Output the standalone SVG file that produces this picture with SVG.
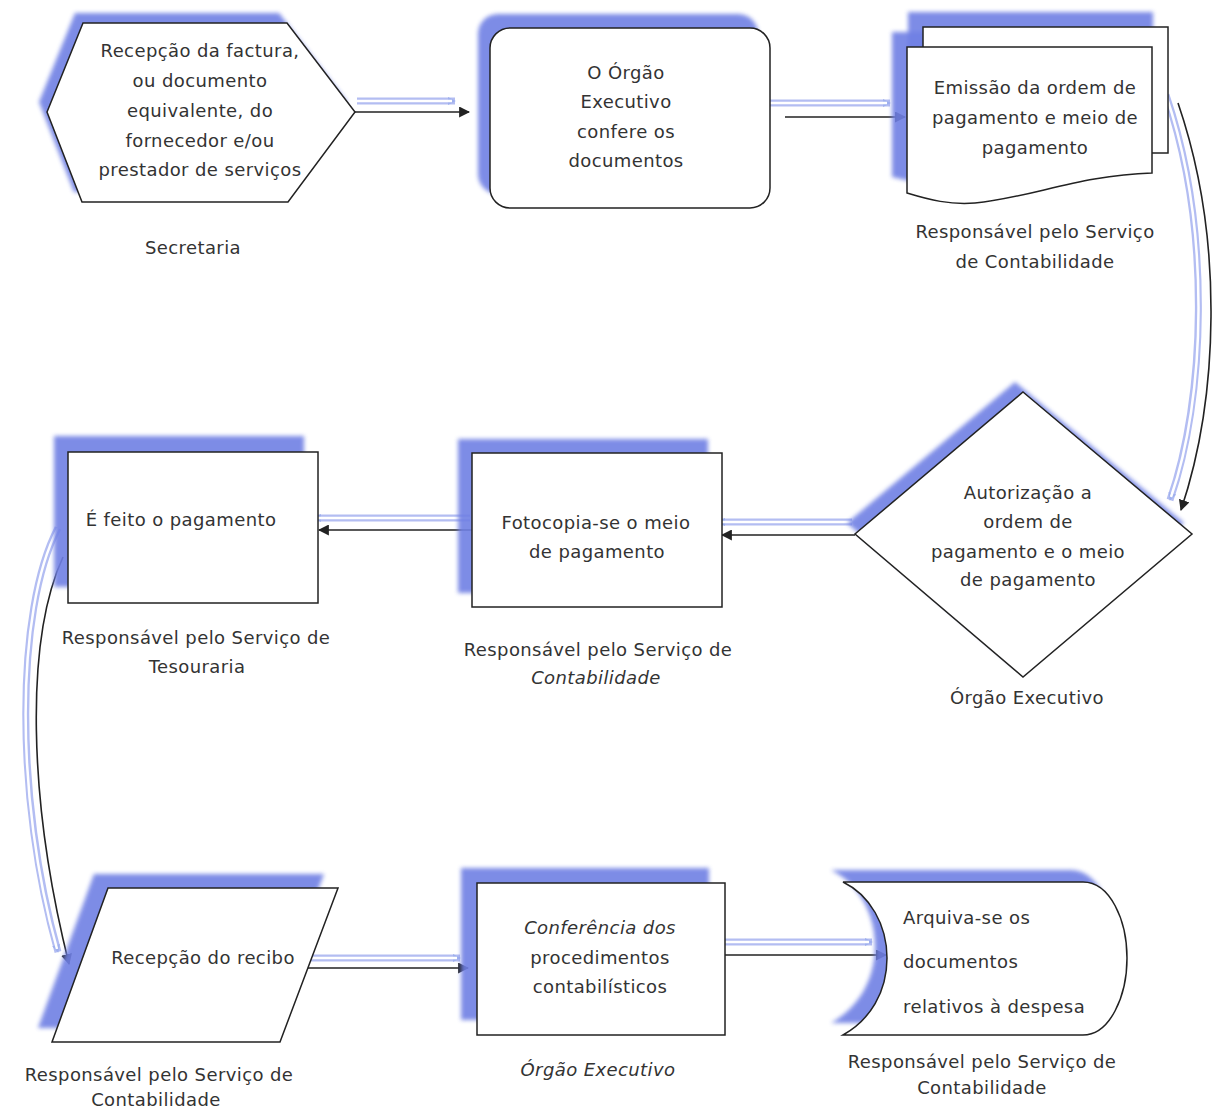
<svg xmlns="http://www.w3.org/2000/svg" width="1223" height="1111" viewBox="0 0 1223 1111">
<defs>
<filter id="blur" x="-10%" y="-10%" width="120%" height="120%"><feGaussianBlur stdDeviation="2.2"/></filter>
<marker id="ah" viewBox="0 0 10 10" refX="9" refY="5" markerWidth="11" markerHeight="11" markerUnits="userSpaceOnUse" orient="auto"><path d="M0,0 L10,5 L0,10 Z" fill="#222"/></marker>
<marker id="ahb" viewBox="0 0 10 10" refX="9" refY="5" markerWidth="8" markerHeight="8" markerUnits="userSpaceOnUse" orient="auto"><path d="M0,0 L10,5 L0,10 Z" fill="#9fb0ee"/></marker>
</defs>
<style>
.sh{fill:#6f80e4;filter:url(#blur);opacity:0.9}
.nd{fill:#fff;stroke:#222;stroke-width:1.5}
.t{font-family:"DejaVu Sans",sans-serif;font-size:18px;fill:#333;text-anchor:middle;letter-spacing:0.4px}
.tl{text-anchor:start}
.it{font-style:italic}
.ln{fill:none;stroke:#222;stroke-width:1.6}
.bl{fill:none;stroke:#b3bdf2;stroke-width:7}
.bw{fill:none;stroke:#fff;stroke-width:2.5}
</style>
<rect width="1223" height="1111" fill="#fff"/>

<g id="connectors">
  <path class="bl" d="M357,101 H455" marker-end="url(#ahb)"/><path class="bw" d="M357,101 H452"/>
  <path class="ln" d="M355,112 H469" marker-end="url(#ah)"/>
  <path class="bl" d="M770,103 H890" marker-end="url(#ahb)"/><path class="bw" d="M770,103 H887"/>
  <path class="ln" d="M785,117 H905" marker-end="url(#ah)"/>
  <path class="bl" d="M1166,95 C1212,230 1205,400 1170,500" marker-end="url(#ahb)"/><path class="bw" d="M1166,95 C1212,230 1205,400 1171,497"/>
  <path class="ln" d="M1178,103 C1225,240 1218,400 1181,510" marker-end="url(#ah)"/>
  <path class="bl" d="M852,522 H718" marker-end="url(#ahb)"/><path class="bw" d="M852,522 H721"/>
  <path class="ln" d="M855,535 H722" marker-end="url(#ah)"/>
  <path class="bl" d="M470,518 H314" marker-end="url(#ahb)"/><path class="bw" d="M470,518 H317"/>
  <path class="ln" d="M472,530 H319" marker-end="url(#ah)"/>
  <path class="bl" d="M58,528 C15,610 15,800 58,952" marker-end="url(#ahb)"/><path class="bw" d="M58,528 C15,610 15,800 57,949"/>
  <path class="ln" d="M63,557 C25,640 28,800 69,964" marker-end="url(#ah)"/>
  <path class="bl" d="M300,958 H460" marker-end="url(#ahb)"/><path class="bw" d="M300,958 H457"/>
  <path class="ln" d="M300,968 H468" marker-end="url(#ah)"/>
  <path class="bl" d="M706,942 H872" marker-end="url(#ahb)"/><path class="bw" d="M706,942 H869"/>
  <path class="ln" d="M720,955 H886" marker-end="url(#ah)"/>
</g>

<g id="node-recepcao-factura">
  <polygon class="sh" points="39,102 75,13 279,13 347,102 280,192 74,192"/>
  <polygon class="nd" points="47,112 83,23 287,23 355,112 288,202 82,202"/>
  <text class="t" x="200" y="57">Recepção da factura,</text>
  <text class="t" x="200" y="87">ou documento</text>
  <text class="t" x="200" y="117">equivalente, do</text>
  <text class="t" x="200" y="147">fornecedor e/ou</text>
  <text class="t" x="200" y="176">prestador de serviços</text>
  <text class="t" x="193" y="254">Secretaria</text>
</g>

<g id="node-orgao-confere">
  <rect class="sh" x="478" y="14" width="280" height="180" rx="20"/>
  <rect class="nd" x="490" y="28" width="280" height="180" rx="20"/>
  <text class="t" x="626" y="79">O Órgão</text>
  <text class="t" x="626" y="108">Executivo</text>
  <text class="t" x="626" y="138">confere os</text>
  <text class="t" x="626" y="167">documentos</text>
</g>

<g id="node-emissao">
  <rect class="sh" x="908" y="12" width="245" height="126"/>
  <path class="sh" d="M892,32 H1137 V158 C1065,160 1015,188 960,188 C935,188 915,182 892,177 Z"/>
  <rect class="nd" x="923" y="27" width="245" height="126"/>
  <path class="nd" d="M907,47 H1152 V173 C1080,175 1030,198 975,203 C950,205 930,200 907,193 Z"/>
  <text class="t" x="1035" y="94">Emissão da ordem de</text>
  <text class="t" x="1035" y="124">pagamento e meio de</text>
  <text class="t" x="1035" y="154">pagamento</text>
  <text class="t" x="1035" y="238">Responsável pelo Serviço</text>
  <text class="t" x="1035" y="268">de Contabilidade</text>
</g>

<g id="node-autorizacao">
  <polygon class="sh" points="1015,382 1184,523 1015,667 847,523"/>
  <polygon class="nd" points="1023,392 1192,534 1023,677 855,534"/>
  <text class="t" x="1028" y="499">Autorização a</text>
  <text class="t" x="1028" y="528">ordem de</text>
  <text class="t" x="1028" y="558">pagamento e o meio</text>
  <text class="t" x="1028" y="586">de pagamento</text>
  <text class="t" x="1027" y="704">Órgão Executivo</text>
</g>

<g id="node-fotocopia">
  <rect class="sh" x="458" y="439" width="250" height="154"/>
  <rect class="nd" x="472" y="453" width="250" height="154"/>
  <text class="t" x="596" y="529">Fotocopia-se o meio</text>
  <text class="t" x="597" y="558">de pagamento</text>
  <text class="t" x="598" y="656">Responsável pelo Serviço de</text>
  <text class="t it" x="596" y="684">Contabilidade</text>
</g>

<g id="node-pagamento">
  <rect class="sh" x="54" y="436" width="250" height="151"/>
  <rect class="nd" x="68" y="452" width="250" height="151"/>
  <text class="t" x="181" y="526">É feito o pagamento</text>
  <text class="t" x="196" y="644">Responsável pelo Serviço de</text>
  <text class="t" x="197" y="673">Tesouraria</text>
</g>

<g id="node-recibo">
  <polygon class="sh" points="94,874 324,874 266,1028 38,1028"/>
  <polygon class="nd" points="108,888 338,888 280,1042 52,1042"/>
  <text class="t" x="203" y="964">Recepção do recibo</text>
  <text class="t" x="159" y="1081">Responsável pelo Serviço de</text>
  <text class="t" x="156" y="1106">Contabilidade</text>
</g>

<g id="node-conferencia">
  <rect class="sh" x="461" y="868" width="248" height="152"/>
  <rect class="nd" x="477" y="883" width="248" height="152"/>
  <text class="t it" x="600" y="934">Conferência dos</text>
  <text class="t" x="600" y="964">procedimentos</text>
  <text class="t" x="600" y="993">contabilísticos</text>
  <text class="t it" x="598" y="1076">Órgão Executivo</text>
</g>

<g id="node-arquivo">
  <path class="sh" d="M831,870 H1071 C1098,870 1115,908 1115,946 C1115,984 1098,1023 1071,1023 H831 C858,1008 875,980 875,946 C875,913 858,883 831,870 Z"/>
  <path class="nd" d="M843,882 H1083 C1110,882 1127,920 1127,958 C1127,996 1110,1035 1083,1035 H843 C870,1020 887,992 887,958 C887,925 870,895 843,882 Z"/>
  <text class="t tl" x="903" y="924">Arquiva-se os</text>
  <text class="t tl" x="903" y="968">documentos</text>
  <text class="t tl" x="903" y="1013">relativos à despesa</text>
  <text class="t" x="982" y="1068">Responsável pelo Serviço de</text>
  <text class="t" x="982" y="1094">Contabilidade</text>
</g>
</svg>
